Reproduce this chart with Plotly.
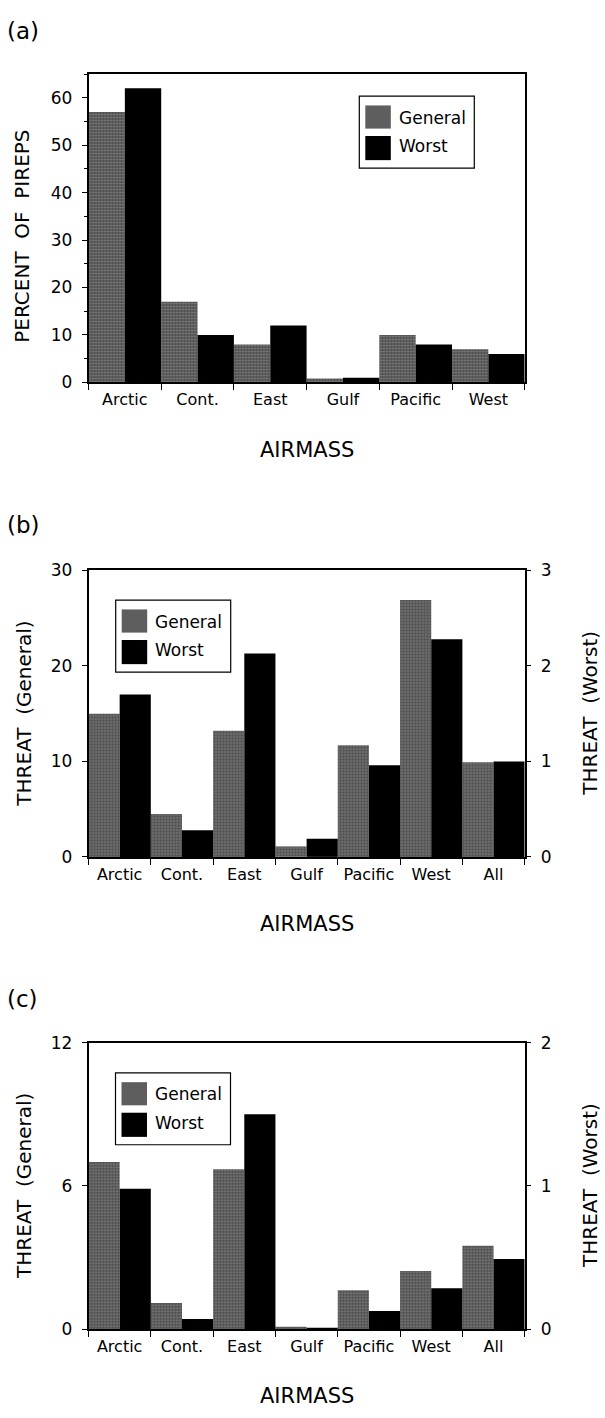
import plotly.graph_objects as go

W, H = 605, 1418

# ---------------- data ----------------
cats_a = ["Arctic", "Cont.", "East", "Gulf", "Pacific", "West"]
general_a = [57, 17, 8, 0.8, 10, 7]
worst_a = [62, 10, 12, 1, 8, 6]

cats_bc = ["Arctic", "Cont.", "East", "Gulf", "Pacific", "West", "All"]
general_b = [15.0, 4.5, 13.2, 1.1, 11.7, 26.9, 9.9]
worst_b = [1.70, 0.28, 2.13, 0.19, 0.96, 2.28, 1.0]

general_c = [7.0, 1.1, 6.7, 0.1, 1.63, 2.44, 3.49]
worst_c = [0.98, 0.07, 1.50, 0.01, 0.127, 0.285, 0.49]

FONT = "DejaVu Sans"
GEN = "#4c4c4c"
GEN_PAT = dict(shape=".", fgcolor="#c4c4c4", size=3, solidity=0.35)
WORST = "#000000"


def px(x):
    return x / W


def py(y):
    return 1 - y / H


X0, X1 = 88.5, 524.7
panels = {
    "a": (65.0, 377.7),
    "b": (568.5, 859.0),
    "c": (1047.5, 1338.0),
}

fig = go.Figure()

# panel (a)
fig.add_bar(x=cats_a, y=general_a, xaxis="x", yaxis="y", width=0.5, offset=-0.5,
            marker=dict(color=GEN, pattern=GEN_PAT, line=dict(width=0)), showlegend=False)
fig.add_bar(x=cats_a, y=worst_a, xaxis="x", yaxis="y", width=0.5, offset=0,
            marker=dict(color=WORST, line=dict(width=0)), showlegend=False)
# panel (b)
fig.add_bar(x=cats_bc, y=general_b, xaxis="x2", yaxis="y2", width=0.5, offset=-0.5,
            marker=dict(color=GEN, pattern=GEN_PAT, line=dict(width=0)), showlegend=False)
fig.add_bar(x=cats_bc, y=worst_b, xaxis="x2", yaxis="y3", width=0.5, offset=0,
            marker=dict(color=WORST, line=dict(width=0)), showlegend=False)
# panel (c)
fig.add_bar(x=cats_bc, y=general_c, xaxis="x3", yaxis="y4", width=0.5, offset=-0.5,
            marker=dict(color=GEN, pattern=GEN_PAT, line=dict(width=0)), showlegend=False)
fig.add_bar(x=cats_bc, y=worst_c, xaxis="x3", yaxis="y5", width=0.5, offset=0,
            marker=dict(color=WORST, line=dict(width=0)), showlegend=False)


def xax(anchor, n):
    return dict(domain=[px(X0), px(X1)], anchor=anchor, type="category",
                range=[-0.5, n - 0.5], tickson="boundaries", ticks="outside",
                ticklen=6, tickwidth=1.2, tickcolor="black", showline=True,
                mirror=True, linecolor="black", linewidth=1.5, showgrid=False,
                zeroline=False, tickfont=dict(size=16, color="black"),
                ticklabelstandoff=2)


def yax(anchor, top, bottom, rng, dtick, side="left", mirror=False, overlaying=None, minor=None):
    d = dict(domain=[py(bottom), py(top)], anchor=anchor, range=rng, dtick=dtick,
             side=side, ticks="outside", ticklen=5, tickwidth=1.2, tickcolor="black",
             showline=True, mirror=mirror, linecolor="black", linewidth=1.5,
             showgrid=False, zeroline=False, tickfont=dict(size=17, color="black"),
             ticklabelstandoff=6)
    if overlaying:
        d["overlaying"] = overlaying
    if minor:
        d["minor"] = minor
    return d


ta, ba = panels["a"]
tb, bb = panels["b"]
tc, bc = panels["c"]

fig.update_layout(
    width=W, height=H,
    margin=dict(l=0, r=0, t=0, b=0),
    paper_bgcolor="white", plot_bgcolor="white",
    font=dict(family=FONT, color="black"),
    barmode="overlay",
    showlegend=False,
    xaxis=xax("y", len(cats_a)),
    yaxis=yax("x", ta, ba, [0, 65], 10, mirror=True,
              minor=dict(dtick=5, ticks="outside", ticklen=3, tickcolor="black")),
    xaxis2=xax("y2", len(cats_bc)),
    yaxis2=yax("x2", tb, bb, [0, 30], 10),
    yaxis3=yax("x2", tb, bb, [0, 3], 1, side="right", overlaying="y2"),
    xaxis3=xax("y4", len(cats_bc)),
    yaxis4=yax("x3", tc, bc, [0, 12], 6),
    yaxis5=yax("x3", tc, bc, [0, 2], 1, side="right", overlaying="y4"),
)

ann = []


def text(x, y, s, size, angle=0, xanchor="center"):
    ann.append(dict(x=px(x), y=py(y), xref="paper", yref="paper", text=s,
                    showarrow=False, textangle=angle, xanchor=xanchor, yanchor="middle",
                    font=dict(family=FONT, size=size, color="black")))


# panel labels
text(5, 21, "(a)", 23, xanchor="left")
text(5, 522, "(b)", 23, xanchor="left")
text(5, 1003, "(c)", 23, xanchor="left")

# x titles
xc = (X0 + X1) / 2
text(xc, ba + 69, "AIRMASS", 21)
text(xc, bb + 68, "AIRMASS", 21)
text(xc, bc + 68, "AIRMASS", 21)

# y titles
text(22, 230, "PERCENT  OF  PIREPS", 20, angle=-90)
text(24, (tb + bb) / 2, "THREAT  (General)", 20, angle=-90)
text(590, (tb + bb) / 2, "THREAT  (Worst)", 20, angle=-90)
text(24, (tc + bc) / 2, "THREAT  (General)", 20, angle=-90)
text(590, (tc + bc) / 2, "THREAT  (Worst)", 20, angle=-90)

shapes = []


def legend(bx, by):
    shapes.append(dict(type="rect", xref="paper", yref="paper",
                       x0=px(bx), x1=px(bx + 115), y0=py(by + 73), y1=py(by),
                       line=dict(color="black", width=1.2), fillcolor="white"))
    shapes.append(dict(type="rect", xref="paper", yref="paper",
                       x0=px(bx + 6), x1=px(bx + 31.5), y0=py(by + 33), y1=py(by + 9.5),
                       line=dict(width=0), fillcolor="#5e5e5e"))
    shapes.append(dict(type="rect", xref="paper", yref="paper",
                       x0=px(bx + 6), x1=px(bx + 31.5), y0=py(by + 65), y1=py(by + 40.5),
                       line=dict(width=0), fillcolor="black"))
    text(bx + 37.5, by + 22, "General", 17, xanchor="left")
    text(bx + 37.5, by + 51, "Worst", 17, xanchor="left")


legend(359.3, 87.3)
legend(115.7, 598.5)
legend(115.5, 1078.0)

fig.update_layout(annotations=ann, shapes=shapes)

fig.write_html("out.html", config={"displayModeBar": False},
               post_script="document.body.style.margin='0';document.body.style.overflow='hidden';")
